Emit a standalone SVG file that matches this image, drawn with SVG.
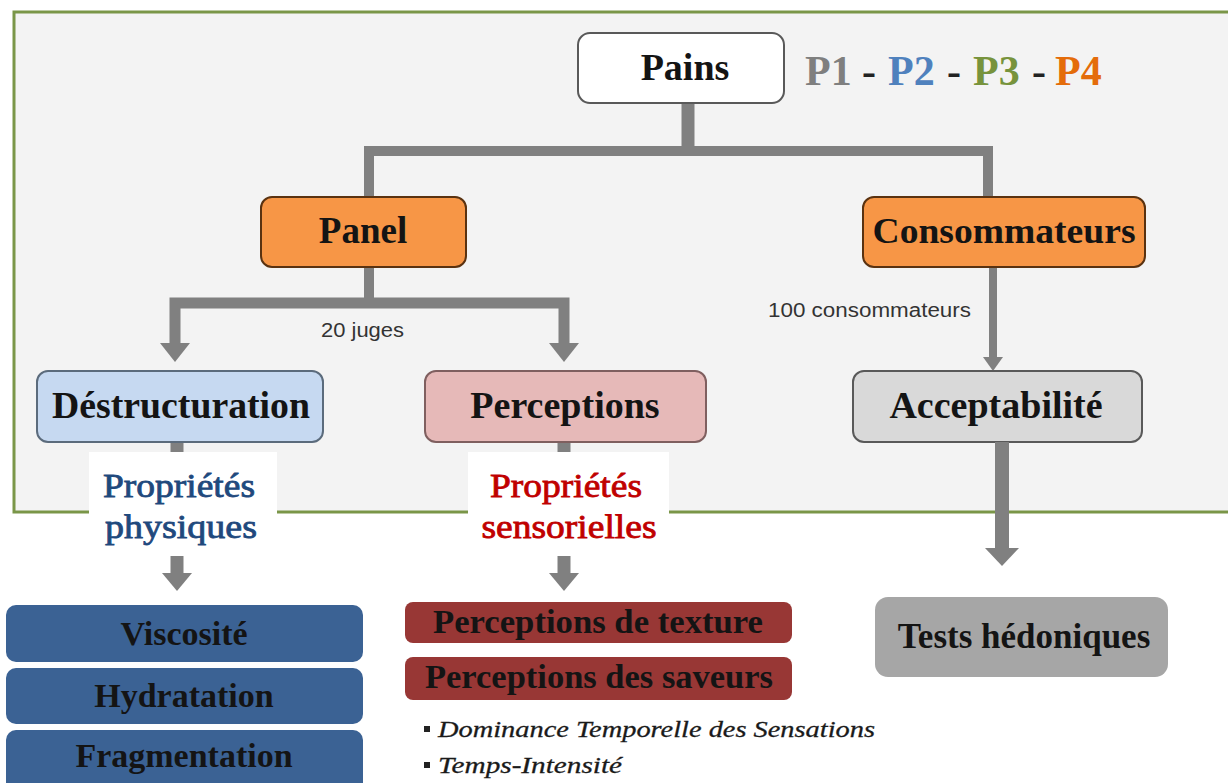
<svg xmlns="http://www.w3.org/2000/svg" width="1228" height="783" viewBox="0 0 1228 783">
<defs>
<style>
.t{font-family:"Liberation Serif","Times New Roman",serif;font-weight:bold;text-anchor:middle;fill:#141414}
.s{font-family:"Liberation Sans",Arial,sans-serif;fill:#333}
.c{fill:none;stroke:#808080;stroke-linejoin:miter;stroke-linecap:butt}
.ah{fill:#808080}
.it{font-family:"Liberation Serif","Times New Roman",serif;font-style:italic;fill:#1a1a1a;stroke:#1a1a1a;stroke-width:0.3}
.prop{font-family:"Liberation Serif","Times New Roman",serif;text-anchor:middle;stroke-width:0.8}
</style>
</defs>
<rect width="1228" height="783" fill="#ffffff"/>
<rect id="frame" x="14" y="12" width="1240" height="500" fill="#f3f3f3" stroke="#7a9648" stroke-width="3"/>

<g id="connectors">
<path class="c" d="M688,103 V151" stroke-width="13"/>
<path class="c" d="M369,197 V151 H988 V197" stroke-width="10"/>
<path class="c" d="M369,267 V303" stroke-width="10"/>
<path class="c" d="M175,345 V303 H564 V345" stroke-width="11"/>
<polygon class="ah" points="160,343 190,343 175,362"/>
<polygon class="ah" points="549,343 579,343 564,362"/>
<path class="c" d="M993,267 V360" stroke-width="8"/>
<polygon class="ah" points="983,357 1003,357 993,371"/>
<path class="c" d="M177,442 V456" stroke-width="13"/>
<path class="c" d="M564,442 V456" stroke-width="13"/>
<path class="c" d="M177,556 V575" stroke-width="13"/>
<polygon class="ah" points="162,573 192,573 177,591"/>
<path class="c" d="M564,556 V575" stroke-width="13"/>
<polygon class="ah" points="549,573 579,573 564,591"/>
</g>

<g id="pains">
<rect x="578" y="33" width="206" height="70" rx="12" fill="#ffffff" stroke="#595959" stroke-width="2"/>
<text class="t" x="685" y="80" font-size="38">Pains</text>
</g>
<g id="legend">
<text font-family="Liberation Serif, serif" font-weight="bold" font-size="42" y="85">
<tspan x="805" fill="#7f7f7f">P1</tspan><tspan x="862" fill="#222">-</tspan><tspan x="888" fill="#4f81bd">P2</tspan><tspan x="947" fill="#222">-</tspan><tspan x="973" fill="#77933c">P3</tspan><tspan x="1032" fill="#222">-</tspan><tspan x="1055" fill="#e46c0a">P4</tspan>
</text>
</g>

<g id="panel">
<rect x="261" y="197" width="205" height="70" rx="11" fill="#f79646" stroke="#5a3210" stroke-width="2"/>
<text class="t" x="363" y="243" font-size="37" fill="#1a0800">Panel</text>
</g>
<g id="consommateurs">
<rect x="863" y="197" width="282" height="70" rx="11" fill="#f79646" stroke="#5a3210" stroke-width="2"/>
<text class="t" x="1004" y="243" font-size="36" textLength="263" lengthAdjust="spacingAndGlyphs">Consommateurs</text>
</g>

<text id="label-juges" class="s" x="321" y="337" font-size="20" textLength="83" lengthAdjust="spacingAndGlyphs">20 juges</text>
<text id="label-conso" class="s" x="768" y="317" font-size="20" textLength="203" lengthAdjust="spacingAndGlyphs">100 consommateurs</text>

<g id="destructuration">
<rect x="37" y="371" width="286" height="71" rx="11" fill="#c6d9f1" stroke="#5b6b7c" stroke-width="2"/>
<text class="t" x="181" y="418" font-size="38" textLength="258" lengthAdjust="spacingAndGlyphs">Déstructuration</text>
</g>
<g id="perceptions">
<rect x="425" y="371" width="281" height="71" rx="11" fill="#e6b9b8" stroke="#7f5f5f" stroke-width="2"/>
<text class="t" x="565" y="418" font-size="38">Perceptions</text>
</g>
<g id="acceptabilite">
<rect x="853" y="371" width="289" height="71" rx="11" fill="#d9d9d9" stroke="#595959" stroke-width="2"/>
<text class="t" x="996" y="418" font-size="38">Acceptabilité</text>
</g>

<g id="acceptabilite-arrow">
<path class="c" d="M1002,442 V550" stroke-width="14"/>
<polygon class="ah" points="985,548 1019,548 1002,566"/>
</g>

<g id="prop-physiques">
<rect x="89" y="452" width="188" height="104" fill="#ffffff"/>
<text class="prop" x="179" y="497" font-size="33" fill="#1f497d" stroke="#1f497d" textLength="152" lengthAdjust="spacingAndGlyphs">Propriétés</text>
<text class="prop" x="181" y="538" font-size="33" fill="#1f497d" stroke="#1f497d" textLength="152" lengthAdjust="spacingAndGlyphs">physiques</text>
</g>
<g id="prop-sensorielles">
<rect x="468" y="452" width="201" height="104" fill="#ffffff"/>
<text class="prop" x="566" y="497" font-size="33" fill="#c00000" stroke="#c00000" textLength="152" lengthAdjust="spacingAndGlyphs">Propriétés</text>
<text class="prop" x="569" y="538" font-size="33" fill="#c00000" stroke="#c00000" textLength="175" lengthAdjust="spacingAndGlyphs">sensorielles</text>
</g>

<g id="viscosite">
<rect x="6" y="605" width="357" height="57" rx="10" fill="#3b6294"/>
<text class="t" x="184" y="645" font-size="34" fill="#0f1f38">Viscosité</text>
</g>
<g id="hydratation">
<rect x="6" y="668" width="357" height="56" rx="10" fill="#3b6294"/>
<text class="t" x="184" y="707" font-size="34" fill="#0f1f38">Hydratation</text>
</g>
<g id="fragmentation">
<rect x="6" y="730" width="357" height="62" rx="10" fill="#3b6294"/>
<text class="t" x="184" y="767" font-size="34" fill="#0f1f38">Fragmentation</text>
</g>

<g id="perc-texture">
<rect x="405" y="602" width="387" height="41" rx="8" fill="#983735"/>
<text class="t" x="598" y="633" font-size="34" fill="#250404" textLength="330" lengthAdjust="spacingAndGlyphs">Perceptions de texture</text>
</g>
<g id="perc-saveurs">
<rect x="405" y="657" width="387" height="43" rx="8" fill="#983735"/>
<text class="t" x="599" y="688" font-size="34" fill="#250404" textLength="348" lengthAdjust="spacingAndGlyphs">Perceptions des saveurs</text>
</g>

<g id="bullets">
<rect x="424" y="726" width="6" height="6" fill="#222"/>
<text class="it" x="438" y="737" font-size="24" textLength="437" lengthAdjust="spacingAndGlyphs">Dominance Temporelle  des Sensations</text>
<rect x="424" y="762" width="6" height="6" fill="#222"/>
<text class="it" x="438" y="773" font-size="24" textLength="184" lengthAdjust="spacingAndGlyphs">Temps-Intensité</text>
</g>

<g id="tests">
<rect x="875" y="597" width="293" height="80" rx="13" fill="#a6a6a6"/>
<text class="t" x="1024" y="648" font-size="35">Tests hédoniques</text>
</g>
</svg>
